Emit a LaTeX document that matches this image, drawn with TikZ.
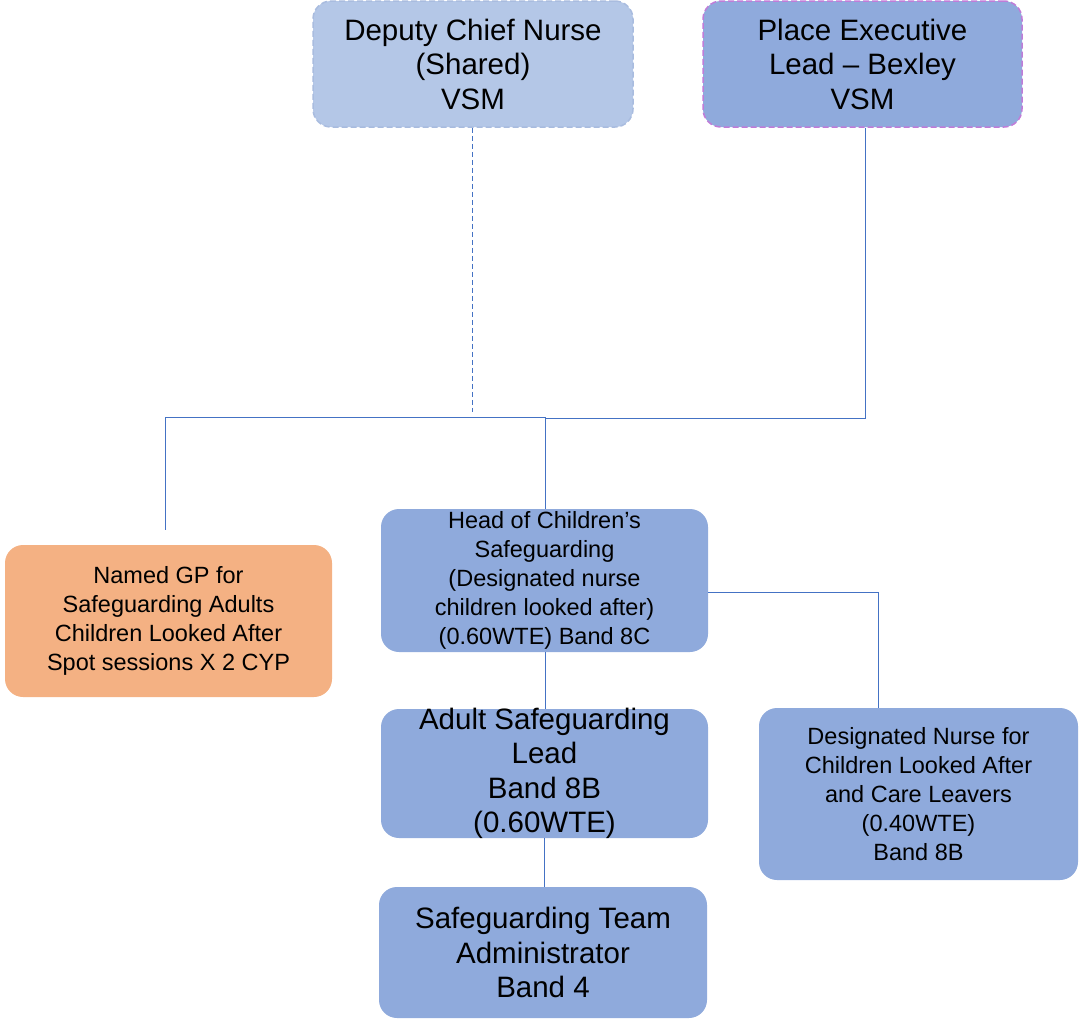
\documentclass[tikz,border=0pt]{standalone}
\usepackage{fontspec}
\setmainfont{Liberation Sans}
\usepackage{tikz}
\definecolor{lightblue}{HTML}{B4C7E7}
\definecolor{midblue}{HTML}{8FAADC}
\definecolor{linkblue}{HTML}{4472C4}
\definecolor{peach}{HTML}{F4B183}
\definecolor{lilac}{HTML}{C07CD8}
\definecolor{greyblue}{HTML}{A9BCDF}
\tikzstyle{box} = [rectangle, rounded corners=18pt, align=center, inner sep=0pt]
\tikzstyle{bigbox} = [box, font=\fontsize{29.5}{34.5}\selectfont]
\tikzstyle{smallbox} = [box, font=\fontsize{23.5}{28.8}\selectfont]
\tikzstyle{sharedbox} = [bigbox, fill=lightblue, draw=greyblue, dash pattern=on 6pt off 3pt, line width=1.5pt]
\tikzstyle{placebox} = [bigbox, fill=midblue, draw=lilac, dash pattern=on 6pt off 3pt, line width=1.5pt]
\tikzstyle{teambox} = [bigbox, fill=midblue]
\tikzstyle{teamsmall} = [smallbox, fill=midblue]
\tikzstyle{gpbox} = [smallbox, fill=peach]
\tikzstyle{link} = [draw=linkblue, line width=1pt]

\begin{document}
\begin{tikzpicture}[x=1pt, y=-1pt]
\useasboundingbox (0,0) rectangle (1080,1023);
% Top row: directors
\node[sharedbox, minimum width=320, minimum height=126] (deputy) at (473,64) {Deputy Chief Nurse\\(Shared)\\VSM};
\node[placebox, minimum width=319, minimum height=126] (place) at (862.5,64) {Place Executive\\Lead -- Bexley\\VSM};
% Middle row
\node[gpbox, minimum width=327, minimum height=152] (gp) at (168.5,621) {Named GP for\\Safeguarding Adults\\Children Looked After\\Spot sessions X 2 CYP};
\node[teamsmall, minimum width=327, minimum height=143, inner ysep=-2pt] (head) at (544.5,580.5) {Head of Children’s\\Safeguarding\\(Designated nurse\\children looked after)\\(0.60WTE) Band 8C};
% Lower rows
\node[teambox, minimum width=327, minimum height=129, inner ysep=-8pt] (adult) at (544.5,773.5) {Adult Safeguarding\\Lead\\Band 8B\\(0.60WTE)};
\node[teamsmall, minimum width=319, minimum height=172] (desnurse) at (918.5,794) {Designated Nurse for\\Children Looked After\\and Care Leavers\\(0.40WTE)\\Band 8B};
\node[teambox, minimum width=328, minimum height=131] (admin) at (543,952.5) {Safeguarding Team\\Administrator\\Band 4};
% Joints of the connectors
\coordinate (dashend) at (472,412);
\coordinate (joinleft) at (165,417);
\coordinate (joinmid) at (545,417);
\coordinate (joinright) at (865,418);
\coordinate (gpend) at (165,530);
\coordinate (dnjoin) at (878,592);
% Connectors
\draw[link, dash pattern=on 5pt off 3pt] (deputy.south -| dashend) -- (dashend);
\draw[link] (place.south -| joinright) -- (joinright) -- (joinright -| joinmid);
\draw[link] (joinmid) -- (joinleft) -- (gpend);
\draw[link] (joinmid) -- (head.north -| joinmid);
\draw[link] (head.east |- dnjoin) -- (dnjoin) -- (dnjoin |- desnurse.north);
\draw[link] (head.south -| joinmid) -- (adult.north -| joinmid);
\draw[link] (adult.south) -- (admin.north -| adult.south);
\end{tikzpicture}
\end{document}
